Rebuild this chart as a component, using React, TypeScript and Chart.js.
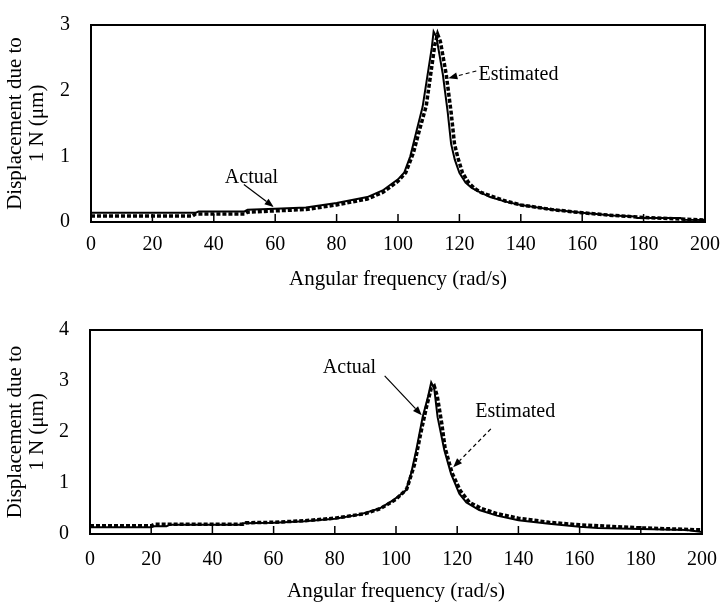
import React, { useEffect, useRef } from "react";
import { Chart, registerables } from "chart.js";

Chart.register(...registerables);

// ---------- DATA ----------
const xTickStep = 20;
const topYTicksMax = 3;
const bottomYTicksMax = 4;

const topActualFreq = [0, 34, 35, 50, 51, 60, 70, 80, 90, 95, 100, 102, 104, 106, 108, 110, 111, 111.6, 112.5, 113.5, 114.6, 116.2, 117.3, 118.5, 120, 122, 124, 126.5, 130, 135, 140, 150, 160, 170, 177, 178, 192, 193, 200];
const topActualDisp = [0.14, 0.14, 0.16, 0.16, 0.185, 0.2, 0.22, 0.29, 0.38, 0.48, 0.65, 0.75, 1.0, 1.38, 1.75, 2.35, 2.65, 2.9, 2.82, 2.55, 2.25, 1.67, 1.19, 0.95, 0.75, 0.6, 0.52, 0.46, 0.38, 0.31, 0.26, 0.19, 0.14, 0.1, 0.085, 0.06, 0.06, 0.035, 0.03];

const topEstFreq = [0, 33, 34, 50, 51, 60, 70, 80, 90, 95, 100, 102.5, 105, 107, 109.2, 110.5, 112, 112.9, 113.8, 115.7, 117.3, 118.4, 119.5, 121, 123, 125, 127, 130, 135, 140, 150, 160, 170, 180, 190, 200];
const topEstDisp = [0.09, 0.09, 0.12, 0.12, 0.15, 0.17, 0.19, 0.26, 0.35, 0.45, 0.62, 0.75, 1.05, 1.4, 1.77, 2.2, 2.7, 2.86, 2.75, 2.25, 1.67, 1.19, 0.98, 0.75, 0.6, 0.51, 0.45, 0.4, 0.32, 0.26, 0.19, 0.14, 0.1, 0.07, 0.05, 0.03];

const bottomActualFreq = [0, 20, 21, 25, 26, 49, 50, 60, 70, 80, 88, 94.6, 99, 101, 103.3, 105, 106.6, 108.7, 110.5, 111.5, 112.5, 113.6, 115.8, 118, 120.7, 123, 127.2, 133, 140, 150, 160, 166, 180, 195, 200];
const bottomActualDisp = [0.13, 0.13, 0.15, 0.15, 0.18, 0.18, 0.21, 0.22, 0.25, 0.3, 0.38, 0.5, 0.66, 0.75, 0.86, 1.2, 1.64, 2.29, 2.7, 2.97, 2.85, 2.29, 1.64, 1.18, 0.79, 0.62, 0.47, 0.36, 0.27, 0.2, 0.14, 0.12, 0.1, 0.08, 0.04];

const bottomEstFreq = [0, 20, 21, 50, 51, 60, 70, 80, 90, 95, 100, 103.5, 106, 108, 110, 111.5, 112.5, 113.5, 115, 116, 118.3, 121, 124, 128, 133, 140, 150, 160, 170, 180, 190, 200];
const bottomEstDisp = [0.16, 0.16, 0.19, 0.19, 0.22, 0.23, 0.26, 0.31, 0.4, 0.5, 0.68, 0.88, 1.35, 1.95, 2.5, 2.85, 2.9, 2.7, 2.15, 1.7, 1.2, 0.85, 0.62, 0.5, 0.4, 0.31, 0.23, 0.18, 0.15, 0.12, 0.1, 0.08];

const xTitle = "Angular frequency (rad/s)";
const yTitle = ["Displacement due to", "1 N (\u03bcm)"];

type Note = { text: string; tx: number; ty: number; ax0: number; ay0: number; ax1: number; ay1: number; dashed: boolean };

const topNotes: Note[] = [
  { text: "Actual", tx: 43.6, ty: 0.68, ax0: 49.8, ay0: 0.57, ax1: 59.5, ay1: 0.23, dashed: false },
  { text: "Estimated", tx: 126.2, ty: 2.25, ax0: 125.5, ay0: 2.3, ax1: 116.4, ay1: 2.19, dashed: true },
];
const bottomNotes: Note[] = [
  { text: "Actual", tx: 76.1, ty: 3.26, ax0: 96.3, ay0: 3.1, ax1: 108.4, ay1: 2.33, dashed: false },
  { text: "Estimated", tx: 125.9, ty: 2.39, ax0: 131, ay0: 2.06, ax1: 118.7, ay1: 1.31, dashed: true },
];

// ---------- STYLE ----------
const FONT = "'Liberation Serif', 'Times New Roman', serif";

const decorPlugin = {
  id: "decor",
  afterDatasetsDraw(chart: any, _args: any, opts: any) {
    const { ctx, chartArea: a, scales } = chart;
    const xs = scales.x;
    const ys = scales.y;
    ctx.save();
    ctx.strokeStyle = "#000";
    ctx.fillStyle = "#000";
    ctx.lineWidth = 1.5;
    xs.ticks.forEach((t: any) => {
      const px = xs.getPixelForValue(t.value);
      if (px <= a.left + 1 || px >= a.right - 1) return;
      ctx.beginPath();
      ctx.moveTo(px, a.bottom);
      ctx.lineTo(px, a.bottom - 8);
      ctx.stroke();
    });
    ctx.lineWidth = 2;
    ctx.strokeRect(a.left, a.top, a.right - a.left, a.bottom - a.top);
    const notes: Note[] = (opts && opts.notes) || [];
    notes.forEach((n) => {
      ctx.font = `20px ${FONT}`;
      ctx.textAlign = "left";
      ctx.textBaseline = "middle";
      ctx.fillText(n.text, xs.getPixelForValue(n.tx), ys.getPixelForValue(n.ty));
      const x0 = xs.getPixelForValue(n.ax0);
      const y0 = ys.getPixelForValue(n.ay0);
      const x1 = xs.getPixelForValue(n.ax1);
      const y1 = ys.getPixelForValue(n.ay1);
      const ang = Math.atan2(y1 - y0, x1 - x0);
      const hl = 9;
      const hw = 3.5;
      const bx = x1 - hl * Math.cos(ang);
      const by = y1 - hl * Math.sin(ang);
      ctx.lineWidth = 1.2;
      ctx.setLineDash(n.dashed ? [4, 3] : []);
      ctx.beginPath();
      ctx.moveTo(x0, y0);
      ctx.lineTo(bx, by);
      ctx.stroke();
      ctx.setLineDash([]);
      ctx.beginPath();
      ctx.moveTo(x1, y1);
      ctx.lineTo(bx + hw * Math.sin(ang), by - hw * Math.cos(ang));
      ctx.lineTo(bx - hw * Math.sin(ang), by + hw * Math.cos(ang));
      ctx.closePath();
      ctx.fill();
    });
    ctx.restore();
  },
};

type PanelProps = {
  actualFreq: number[];
  actualDisp: number[];
  estFreq: number[];
  estDisp: number[];
  yMax: number;
  notes: Note[];
  height: number;
  yAxisWidth: number;
  xAxisHeight: number;
  padTop: number;
  padRight: number;
  xTitlePad: number;
  xTickPad: number;
  top: number;
};

function Panel(p: PanelProps) {
  const ref = useRef<HTMLCanvasElement | null>(null);
  useEffect(() => {
    if (!ref.current) return;
    const toPts = (xs: number[], ys: number[]) => xs.map((x, i) => ({ x, y: ys[i] }));
    const chart = new Chart(ref.current, {
      type: "line",
      data: {
        datasets: [
          {
            label: "Estimated",
            data: toPts(p.estFreq, p.estDisp),
            borderColor: "#000",
            borderWidth: 3.5,
            borderDash: [4, 2],
            pointRadius: 0,
            tension: 0,
            fill: false,
          },
          {
            label: "Actual",
            data: toPts(p.actualFreq, p.actualDisp),
            borderColor: "#000",
            borderWidth: 2,
            pointRadius: 0,
            tension: 0,
            fill: false,
          },
        ],
      },
      options: {
        responsive: false,
        animation: false,
        devicePixelRatio: 1,
        layout: { padding: { left: 0, right: p.padRight, top: p.padTop, bottom: 0 } },
        plugins: {
          legend: { display: false },
          tooltip: { enabled: false },
          decor: { notes: p.notes },
        } as any,
        scales: {
          x: {
            type: "linear",
            min: 0,
            max: 200,
            grid: { display: false },
            border: { display: false },
            ticks: { stepSize: xTickStep, color: "#000", font: { family: FONT, size: 20 }, padding: p.xTickPad, maxRotation: 0 },
            title: { display: true, text: xTitle, color: "#000", font: { family: FONT, size: 21, lineHeight: 1.2 }, padding: { top: 0, bottom: p.xTitlePad } },
            afterFit: (s: any) => {
              s.height = p.xAxisHeight;
            },
          },
          y: {
            type: "linear",
            min: 0,
            max: p.yMax,
            grid: { display: false },
            border: { display: false },
            ticks: { stepSize: 1, color: "#000", font: { family: FONT, size: 20 }, padding: 13 },
            title: { display: true, text: yTitle, color: "#000", font: { family: FONT, size: 21, lineHeight: 1.05 }, padding: { top: 4, bottom: 0 } },
            afterFit: (s: any) => {
              s.width = p.yAxisWidth;
            },
          },
        },
      } as any,
      plugins: [decorPlugin as any],
    });
    return () => chart.destroy();
  }, []);
  return (
    <canvas
      ref={ref}
      width={723}
      height={p.height}
      style={{ position: "absolute", left: 0, top: p.top, width: 723, height: p.height }}
    />
  );
}

export default function App() {
  return (
    <div style={{ position: "absolute", left: 0, top: 0, width: 723, height: 602, background: "#fff", overflow: "hidden" }}>
      <Panel
        actualFreq={topActualFreq}
        actualDisp={topActualDisp}
        estFreq={topEstFreq}
        estDisp={topEstDisp}
        yMax={topYTicksMax}
        notes={topNotes}
        height={300}
        yAxisWidth={91}
        xAxisHeight={78}
        padTop={15}
        padRight={17}
        xTitlePad={8}
        xTickPad={3}
        top={0}
      />
      <Panel
        actualFreq={bottomActualFreq}
        actualDisp={bottomActualDisp}
        estFreq={bottomEstFreq}
        estDisp={bottomEstDisp}
        yMax={bottomYTicksMax}
        notes={bottomNotes}
        height={310}
        yAxisWidth={90}
        xAxisHeight={76}
        padTop={30}
        padRight={19}
        xTitlePad={6}
        xTickPad={6}
        top={300}
      />
    </div>
  );
}
